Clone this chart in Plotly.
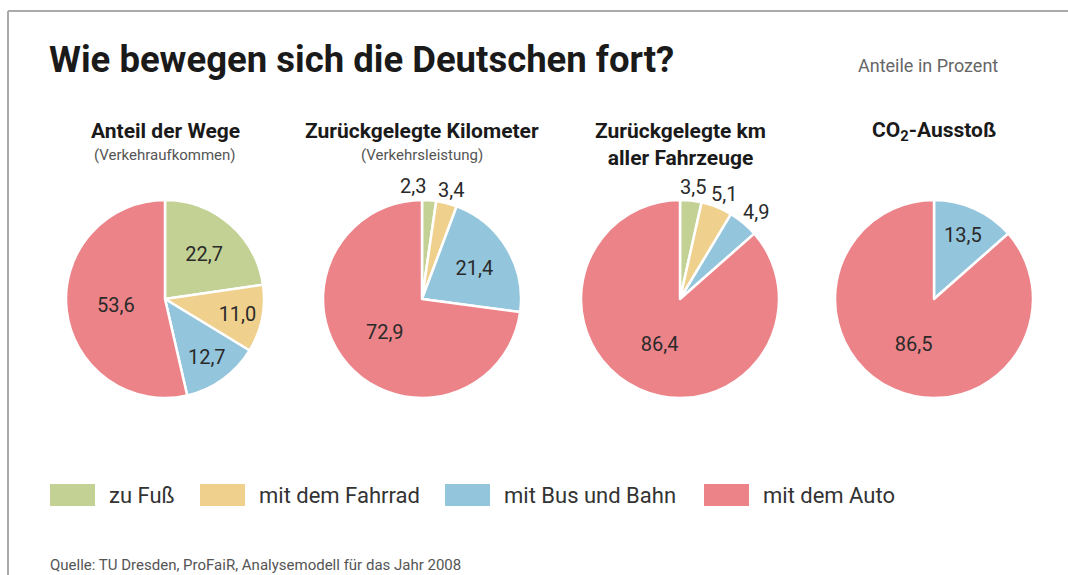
import math
import plotly.graph_objects as go

# ---------------- data ----------------
categories = ["zu Fuß", "mit dem Fahrrad", "mit Bus und Bahn", "mit dem Auto"]
colors = ["#c3d294", "#efd08d", "#93c5dc", "#ec8389"]

titles = ["Anteil der Wege", "Zurückgelegte Kilometer",
          "Zurückgelegte km<br>aller Fahrzeuge", "CO<sub>2</sub>-Ausstoß"]
subtitles = ["(Verkehraufkommen)", "(Verkehrsleistung)", "", ""]

wege = [22.7, 11.0, 12.7, 53.6]
kilometer = [2.3, 3.4, 21.4, 72.9]
fahrzeug_km = [3.5, 5.1, 4.9, 86.4]
co2 = [0.0, 0.0, 13.5, 86.5]
series = [wege, kilometer, fahrzeug_km, co2]

# ---------------- layout helpers ----------------
W, H = 1068, 575
centers_x = [165, 422, 680, 934]
cy, r = 299, 99
INSIDE_MIN = 10          # smaller slices get their value written outside the pie
LABEL_SIZE = 20

FONT = "Roboto"


def px(x):
    return x / W


def py(y):
    return 1 - y / H


def fmt(v):
    return f"{v:.1f}".replace(".", ",")


fig = go.Figure()

for i, vals in enumerate(series):
    cx = centers_x[i]
    keep = [k for k, v in enumerate(vals) if v > 0]
    v_k = [vals[k] for k in keep]
    fig.add_trace(go.Pie(
        labels=[categories[k] for k in keep], values=v_k, sort=False,
        direction="clockwise", rotation=0,
        marker=dict(colors=[colors[k] for k in keep],
                    line=dict(color="white", width=2.5)),
        texttemplate="%{value:.1f}",
        textposition=["inside" if v >= INSIDE_MIN else "none" for v in v_k],
        insidetextorientation="horizontal",
        textfont=dict(family=FONT, size=LABEL_SIZE, color="#2a2a2a"),
        hoverinfo="label+value",
        showlegend=False,
        domain=dict(x=[px(cx - r), px(cx + r)], y=[py(cy + r), py(cy - r)]),
    ))

    # values of small slices: written just outside the rim, at the slice's mid angle
    total = sum(vals)
    cum = 0.0
    outs = []
    for v in vals:
        if 0 < v < INSIDE_MIN:
            th = math.radians((cum + v / 2) / total * 360)
            s, c = math.sin(th), math.cos(th)
            w_txt, h_txt = 0.5 * LABEL_SIZE * 3, LABEL_SIZE
            lx = cx + (r + 4) * s + w_txt / 2 * s
            ly = cy - (r + 4) * c - h_txt / 2 * c
            outs.append([lx, ly, w_txt, fmt(v)])
        cum += v
    # resolve horizontal overlaps by nudging the earlier label to the left
    for k in range(len(outs) - 1, 0, -1):
        a, b = outs[k - 1], outs[k]
        overlap = (a[0] + a[2] / 2) - (b[0] - b[2] / 2)
        if overlap > 0 and abs(a[1] - b[1]) < LABEL_SIZE:
            a[0] -= overlap + 8
    for lx, ly, _, t in outs:
        fig.add_annotation(x=px(lx), y=py(ly), xref="paper", yref="paper",
                           text=t, showarrow=False, xanchor="center", yanchor="middle",
                           font=dict(family=FONT, size=LABEL_SIZE, color="#2a2a2a"))

    two_line = "<br>" in titles[i]
    fig.add_annotation(x=px(cx), y=py(117 if two_line else 131), xref="paper", yref="paper",
                       text="<b>" + titles[i] + "</b>", showarrow=False,
                       xanchor="center", yanchor="top" if two_line else "middle",
                       font=dict(family=FONT, size=21, color="#1a1a1a"))
    if subtitles[i]:
        fig.add_annotation(x=px(cx), y=py(155), xref="paper", yref="paper",
                           text=subtitles[i], showarrow=False,
                           font=dict(family=FONT, size=15, color="#555555"),
                           xanchor="center", yanchor="middle")

# legend (drawn manually)
swatch_x = [50, 200, 445, 704]
for i, (cat, col) in enumerate(zip(categories, colors)):
    x0 = swatch_x[i]
    fig.add_shape(type="rect", xref="paper", yref="paper",
                  x0=px(x0), x1=px(x0 + 45), y0=py(506), y1=py(484),
                  fillcolor=col, line=dict(width=0))
    fig.add_annotation(x=px(x0 + 57), y=py(495), xref="paper", yref="paper",
                       text=cat, showarrow=False, xanchor="left", yanchor="middle",
                       font=dict(family=FONT, size=22, color="#333333"))

# frame
fig.add_shape(type="line", xref="paper", yref="paper",
              x0=px(8), x1=1, y0=py(11), y1=py(11),
              line=dict(color="#aaaaaa", width=2))
fig.add_shape(type="line", xref="paper", yref="paper",
              x0=px(8), x1=px(8), y0=py(11), y1=0,
              line=dict(color="#aaaaaa", width=2))

# title and notes
fig.add_annotation(x=px(47), y=py(60), xref="paper", yref="paper",
                   text="<b>Wie bewegen sich die Deutschen fort?</b>", showarrow=False,
                   xanchor="left", yanchor="middle",
                   font=dict(family=FONT, size=36.5, color="#1a1a1a"))
fig.add_annotation(x=px(1000), y=py(65), xref="paper", yref="paper",
                   text="Anteile in Prozent", showarrow=False,
                   xanchor="right", yanchor="middle",
                   font=dict(family=FONT, size=18, color="#666666"))
fig.add_annotation(x=px(48), y=py(565), xref="paper", yref="paper",
                   text="Quelle: TU Dresden, ProFaiR, Analysemodell für das Jahr 2008",
                   showarrow=False, xanchor="left", yanchor="middle",
                   font=dict(family=FONT, size=15, color="#555555"))

fig.update_layout(width=W, height=H, margin=dict(l=0, r=0, t=0, b=0),
                  paper_bgcolor="white", plot_bgcolor="white",
                  separators=",.", showlegend=False)

fig.write_html("out.html")
